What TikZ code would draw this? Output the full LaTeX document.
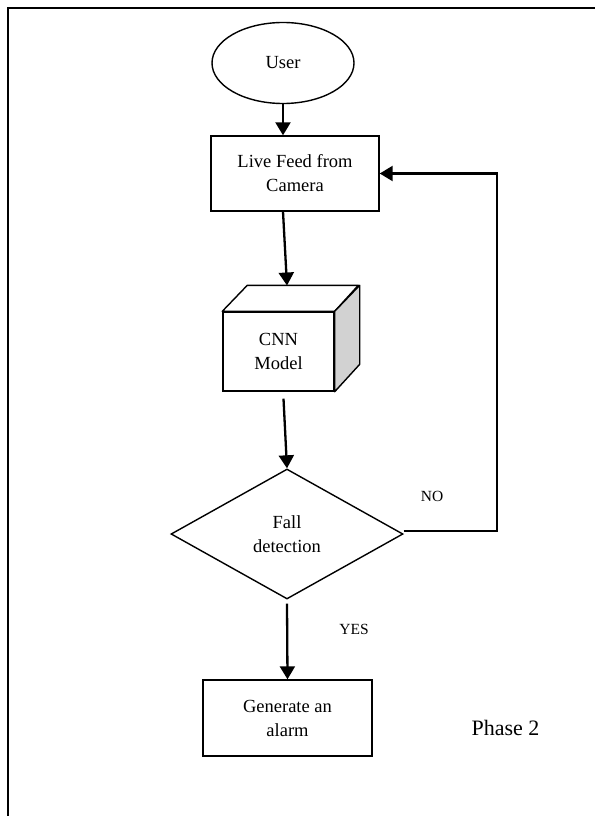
\documentclass[tikz,border=0pt]{standalone}
\usepackage{fontspec}
\setmainfont{Liberation Serif}
\usetikzlibrary{shapes.geometric,arrows.meta,calc}
\tikzset{
  boxtext/.style={font=\fontsize{18.5}{24}\selectfont, align=center, inner sep=0pt},
  procbox/.style={boxtext, draw, line width=1.4pt, rectangle},
  flowarrow/.style={line width=2.3pt, -{Triangle[length=13pt,width=15pt]}},
  smalllabel/.style={font=\fontsize{15.5}{18}\selectfont, inner sep=0pt},
}
\begin{document}
\begin{tikzpicture}[x=1pt,y=-1pt]
\useasboundingbox (0,0) rectangle (595,816);
% outer frame
\draw[line width=2.6pt] (8,816) -- (8,8) -- (595,8);

% nodes
\node[boxtext, draw, line width=1.4pt, ellipse, minimum width=142pt, minimum height=81pt] (user) at (283,63) {User};
\node[procbox, minimum width=168pt, minimum height=75pt] (feed) at (295,173.5) {Live Feed from\\Camera};
\node[procbox, minimum width=111pt, minimum height=79pt] (cnn) at (278.5,351.5) {CNN\\Model};
\node[boxtext, draw, line width=1.4pt, diamond, minimum width=232pt, minimum height=130pt] (dia) at (287,534) {Fall\\detection};
\node[procbox, minimum width=169pt, minimum height=76pt] (alarm) at (287.5,718) {Generate an\\alarm};

% cube faces
\draw[line width=1.4pt, line join=round] (cnn.north west) -- ++(25,-26) -- ++(111,0) -- (cnn.north east) -- cycle;
\draw[line width=1.4pt, line join=round, fill=gray!35] (cnn.north east) -- ++(25,-26) -- ++(0,79) -- (cnn.south east) -- cycle;

% labels
\node[smalllabel] (nolab) at (432,496) {NO};
\node[smalllabel] (yeslab) at (354,629) {YES};
\node[font=\fontsize{22}{26}\selectfont, inner sep=0pt] (phase) at (505.5,728) {Phase 2};

% connectors
\coordinate (feedout) at ($(feed.south)+(-12,0)$);
\coordinate (cnntop) at (287,285.5);
\coordinate (cnnout) at ($(cnn.south)+(5,7)$);
\coordinate (diaout) at ($(dia.south)+(0,4)$);
\coordinate (noturn) at (497,531);
\coordinate (nostart) at (dia.east |- noturn);

\draw[flowarrow] (user.south) -- (feed.north -| user.south);
\draw[flowarrow] (feedout) -- (cnntop);
\draw[flowarrow] (cnnout) -- (dia.north);
\draw[flowarrow] (diaout) -- (alarm.north);
\draw[line width=2.2pt, -{Triangle[length=13pt,width=15pt]}] (nostart) -- (noturn) |- (feed.east);
\end{tikzpicture}
\end{document}
